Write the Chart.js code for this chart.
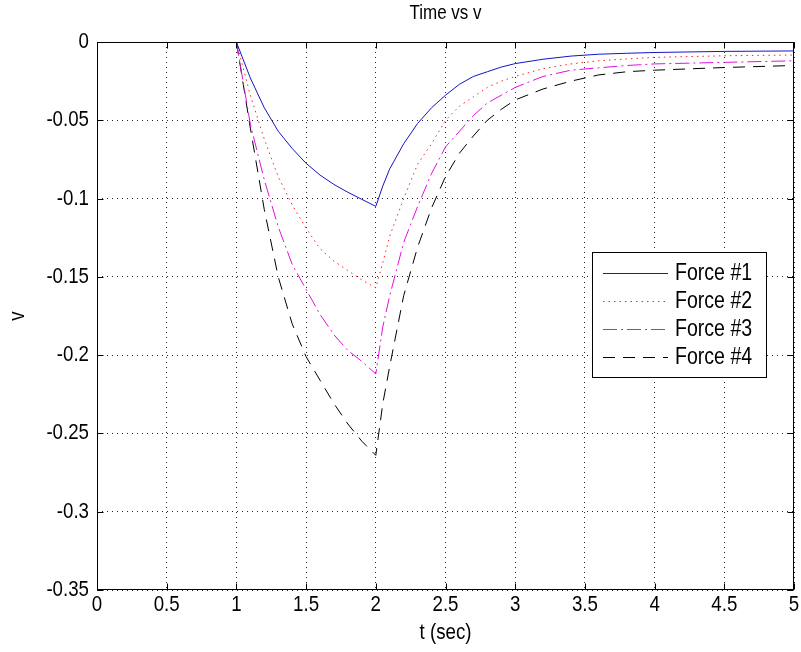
<!DOCTYPE html>
<html>
<head>
<meta charset="utf-8">
<title>Time vs v</title>
<script src="https://cdn.jsdelivr.net/npm/chart.js@4.4.1/dist/chart.umd.min.js"></script>
<style>
  html, body { margin: 0; padding: 0; background: #fff; }
  #wrap { width: 801px; height: 652px; }
</style>
</head>
<body>
<div id="wrap"><canvas id="chart" width="801" height="652"></canvas></div>
<script>
  // ---- DATA ----
  const seriesNames = ['Force #1', 'Force #2', 'Force #3', 'Force #4'];

  const timeSec = [1.0, 1.1, 1.2, 1.3, 1.4, 1.5, 1.6, 1.7, 1.8, 1.9, 2.0, 2.05,
                   2.1, 2.2, 2.3, 2.4, 2.5, 2.6, 2.7, 2.8, 2.9, 3.0,
                   3.2, 3.4, 3.6, 3.8, 4.0, 4.5, 5.0];

  const force1 = [0, -0.023, -0.042, -0.057, -0.068, -0.0775, -0.085, -0.091, -0.096, -0.1005, -0.105, -0.092,
                  -0.081, -0.065, -0.052, -0.042, -0.034, -0.027, -0.022, -0.019, -0.016, -0.0138,
                  -0.011, -0.009, -0.0078, -0.0072, -0.0067, -0.006, -0.0057];

  const force2 = [0, -0.034, -0.062, -0.086, -0.104, -0.119, -0.132, -0.140, -0.146, -0.152, -0.157, -0.141,
                  -0.124, -0.100, -0.078, -0.065, -0.050, -0.041, -0.035, -0.029, -0.025, -0.022,
                  -0.017, -0.014, -0.012, -0.0108, -0.0098, -0.0088, -0.0083];

  const force3 = [0, -0.0525, -0.088, -0.118, -0.142, -0.158, -0.174, -0.187, -0.197, -0.204, -0.212, -0.182,
                  -0.162, -0.128, -0.105, -0.084, -0.067, -0.057, -0.047, -0.039, -0.034, -0.029,
                  -0.022, -0.018, -0.0165, -0.015, -0.014, -0.013, -0.012];

  const force4 = [0, -0.055, -0.107, -0.150, -0.180, -0.201, -0.216, -0.231, -0.244, -0.255, -0.264, -0.231,
                  -0.207, -0.162, -0.131, -0.106, -0.086, -0.071, -0.060, -0.050, -0.043, -0.037,
                  -0.030, -0.025, -0.021, -0.019, -0.018, -0.0163, -0.015];

  const xTicks = [0, 0.5, 1, 1.5, 2, 2.5, 3, 3.5, 4, 4.5, 5];
  const xTickLabels = ['0', '0.5', '1', '1.5', '2', '2.5', '3', '3.5', '4', '4.5', '5'];
  const yTicks = [0, -0.05, -0.1, -0.15, -0.2, -0.25, -0.3, -0.35];
  const yTickLabels = ['0', '-0.05', '-0.1', '-0.15', '-0.2', '-0.25', '-0.3', '-0.35'];

  const titleText = 'Time vs v';
  const xTitle = 't (sec)';
  const yTitle = 'v';

  // ---- STYLE ----
  const FONT = "'Liberation Sans', Arial, sans-serif";
  const SQUEEZE = 0.85;   // the reference text is tall and narrow
  const styles = [
    { color: '#1414c8', dash: [] },
    { color: '#ff2020', dash: [1.5, 4] },
    { color: '#e010e0', dash: [14, 4, 2, 4] },
    { color: '#000000', dash: [12, 8] },
  ];

  const pts = (ys) => timeSec.map((t, i) => ({ x: t, y: ys[i] }));
  const values = [force1, force2, force3, force4];

  const datasets = values.map((ys, i) => ({
    label: seriesNames[i],
    data: pts(ys),
    borderColor: styles[i].color,
    borderDash: styles[i].dash,
    borderWidth: 1,
    pointRadius: 0,
    tension: 0,
    fill: false,
  }));

  function drawText(ctx, str, x, y, size, align, baseline, rot) {
    ctx.save();
    ctx.translate(x, y);
    if (rot) ctx.rotate(rot);
    ctx.scale(SQUEEZE, 1);
    ctx.font = size + 'px ' + FONT;
    ctx.fillStyle = '#000';
    ctx.textAlign = align;
    ctx.textBaseline = baseline;
    ctx.fillText(str, 0, 0);
    ctx.restore();
  }

  // ---- PLUGINS ----
  // box round the axes + inward tick marks, matlab style
  const matlabAxes = {
    id: 'matlabAxes',
    afterDatasetsDraw(chart) {
      const { ctx, chartArea: a, scales: { x, y } } = chart;
      const L = Math.round(a.left) + 0.5, R = Math.round(a.right) - 0.5;
      const T = Math.round(a.top) + 0.5, B = Math.round(a.bottom) - 0.5;
      const tl = 6;
      ctx.save();
      ctx.strokeStyle = '#000';
      ctx.lineWidth = 1;
      ctx.setLineDash([]);
      ctx.strokeRect(L, T, R - L, B - T);
      ctx.beginPath();
      x.ticks.forEach(t => {
        const px = Math.round(x.getPixelForValue(t.value)) + 0.5;
        ctx.moveTo(px, B); ctx.lineTo(px, B - tl);
        ctx.moveTo(px, T); ctx.lineTo(px, T + tl);
      });
      y.ticks.forEach(t => {
        const py = Math.round(y.getPixelForValue(t.value)) + 0.5;
        ctx.moveTo(L, py); ctx.lineTo(L + tl, py);
        ctx.moveTo(R, py); ctx.lineTo(R - tl, py);
      });
      ctx.stroke();
      ctx.restore();
    }
  };

  // tick labels and titles (narrow lettering)
  const matlabText = {
    id: 'matlabText',
    afterDraw(chart) {
      const { ctx, chartArea: a, scales: { x, y } } = chart;
      x.ticks.forEach((t, i) => {
        drawText(ctx, xTickLabels[i], x.getPixelForValue(t.value), a.bottom + 15, 22, 'center', 'middle');
      });
      y.ticks.forEach((t, i) => {
        drawText(ctx, yTickLabels[i], a.left - 8, y.getPixelForValue(t.value), 22, 'right', 'middle');
      });
      const cx = (a.left + a.right) / 2;
      drawText(ctx, titleText, cx, 13, 20, 'center', 'middle');
      drawText(ctx, xTitle, cx, 633, 22, 'center', 'middle');
      drawText(ctx, yTitle, 18, (a.top + a.bottom) / 2, 22, 'center', 'middle', -Math.PI / 2);
    }
  };

  // legend drawn inside the plot, framed
  const boxLegend = {
    id: 'boxLegend',
    afterDraw(chart) {
      const { ctx } = chart;
      const box = { left: 592, top: 252, w: 174, h: 125 };
      const rowH = 28, first = 21;
      ctx.save();
      ctx.fillStyle = '#fff';
      ctx.fillRect(box.left, box.top, box.w, box.h);
      ctx.strokeStyle = '#000';
      ctx.lineWidth = 1;
      ctx.setLineDash([]);
      ctx.strokeRect(box.left + 0.5, box.top + 0.5, box.w, box.h);
      chart.data.datasets.forEach((ds, i) => {
        const yy = box.top + first + i * rowH + 0.5;
        ctx.beginPath();
        ctx.strokeStyle = ds.borderColor;
        ctx.setLineDash(ds.borderDash);
        ctx.moveTo(box.left + 11, yy);
        ctx.lineTo(box.left + 76, yy);
        ctx.stroke();
        ctx.setLineDash([]);
        drawText(ctx, ds.label, box.left + 83, yy, 23, 'left', 'middle');
      });
      ctx.restore();
    }
  };

  // ---- CHART ----
  const ctx = document.getElementById('chart').getContext('2d');

  new Chart(ctx, {
    type: 'line',
    data: { datasets },
    options: {
      responsive: false,
      animation: false,
      events: [],
      layout: { padding: { left: 0, right: 7, top: 42, bottom: 0 } },
      plugins: {
        legend: { display: false },
        tooltip: { enabled: false },
        title: { display: false },
      },
      scales: {
        x: {
          type: 'linear',
          min: 0, max: 5,
          afterBuildTicks: s => { s.ticks = xTicks.map(v => ({ value: v })); },
          afterFit: s => { s.height = 62; },
          grid: { color: 'rgba(0,0,0,0.85)', lineWidth: 1, drawTicks: false },
          border: { display: false, dash: [1, 4] },
          ticks: { display: false },
        },
        y: {
          type: 'linear',
          min: -0.35, max: 0,
          afterBuildTicks: s => { s.ticks = yTicks.map(v => ({ value: v })); },
          afterFit: s => { s.width = 97; },
          grid: { color: 'rgba(0,0,0,0.85)', lineWidth: 1, drawTicks: false },
          border: { display: false, dash: [1, 4] },
          ticks: { display: false },
        },
      },
    },
    plugins: [matlabAxes, matlabText, boxLegend],
  });
</script>
</body>
</html>
